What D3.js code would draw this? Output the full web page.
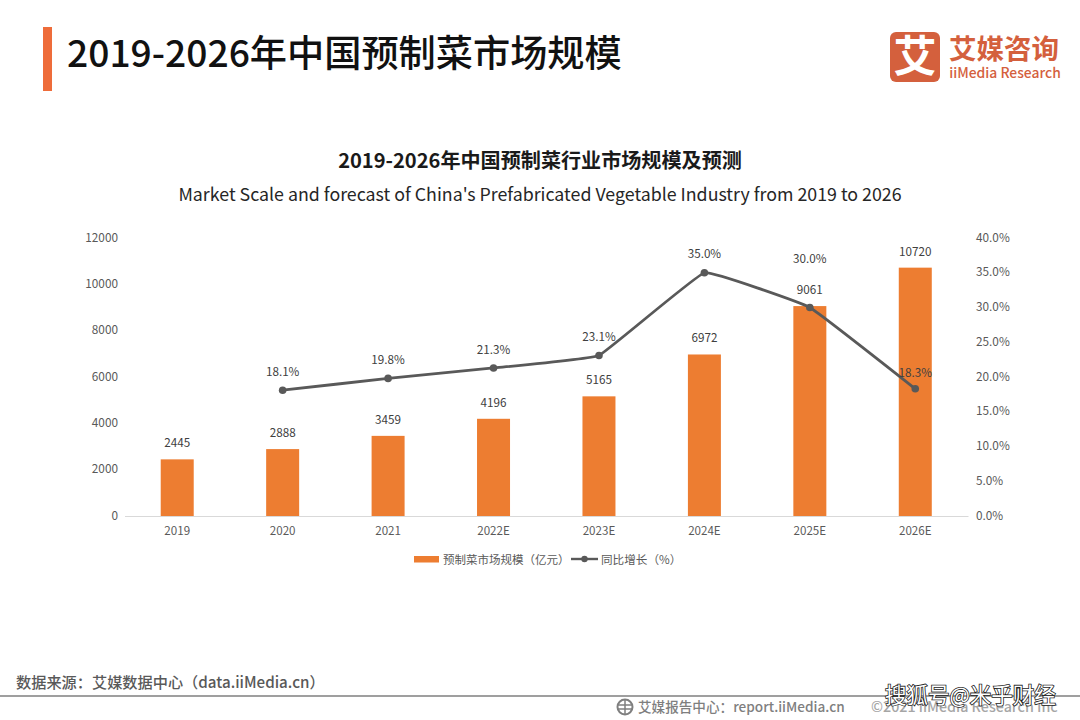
<!DOCTYPE html>
<html>
<head>
<meta charset="utf-8">
<script src="https://cdn.jsdelivr.net/npm/d3@7"></script>
<style>
html, body { margin: 0; padding: 0; background: #fff; }
svg { display: block; }
text { font-family: "Noto Sans CJK SC", "Noto Sans", sans-serif; }
</style>
</head>
<body>
<div id="chart"></div>
<script>
var years = ['2019', '2020', '2021', '2022E', '2023E', '2024E', '2025E', '2026E'];
var scaleValues = [2445, 2888, 3459, 4196, 5165, 6972, 9061, 10720];
var growthValues = [null, 18.1, 19.8, 21.3, 23.1, 35.0, 30.0, 18.3];
var growthLabels = ['', '18.1%', '19.8%', '21.3%', '23.1%', '35.0%', '30.0%', '18.3%'];
var leftTicks = [0, 2000, 4000, 6000, 8000, 10000, 12000];
var rightTicks = [0, 5, 10, 15, 20, 25, 30, 35, 40];

var svg = d3.select('#chart').append('svg').attr('width', 1080).attr('height', 720);

var x = d3.scaleBand().domain(years).range([124.5, 968]);
var yLeft = d3.scaleLinear().domain([0, 12000]).range([516, 238]);
var yRight = d3.scaleLinear().domain([0, 40]).range([516, 238]);
var barWidth = 33;
var cx = function (d) { return x(d) + x.bandwidth() / 2; };

function label(px, py, str, size, fill, anchor, weight) {
  return svg.append('text').attr('x', px).attr('y', py).text(str)
    .attr('font-size', size).attr('fill', fill)
    .attr('text-anchor', anchor || 'middle')
    .attr('font-weight', weight || 400);
}

// header
svg.append('rect').attr('x', 43).attr('y', 27).attr('width', 9).attr('height', 64).attr('fill', '#ee6c3a');
label(67, 67, '2019-2026年中国预制菜市场规模', 37.2, '#111', 'start', 500);

// logo
svg.append('rect').attr('x', 890).attr('y', 32).attr('width', 50).attr('height', 50).attr('rx', 6).attr('fill', '#d4603d');
label(915, 72, '艾', 43, '#fff', 'middle', 700);
label(1004, 59, '艾媒咨询', 27.5, '#d4603d', 'middle', 700);
label(1005, 78, 'iiMedia Research', 13.9, '#d4603d', 'middle', 500);

// titles
label(540, 168, '2019-2026年中国预制菜行业市场规模及预测', 20.1, '#1a1a1a', 'middle', 700);
label(540, 201, "Market Scale and forecast of China's Prefabricated Vegetable Industry from 2019 to 2026", 17.8, '#262626');

// axes
var xAxis = d3.axisBottom(x).tickSize(0).tickPadding(11);
var gx = svg.append('g').attr('transform', 'translate(0,516)').call(xAxis);
gx.select('.domain').attr('stroke', '#d9d9d9');
gx.selectAll('text').attr('font-size', 11.6).attr('fill', '#595959').style('font-family', '"Noto Sans CJK SC"');

var gl = svg.append('g').attr('transform', 'translate(118,-0.7)')
  .call(d3.axisLeft(yLeft).tickValues(leftTicks).tickSize(0).tickPadding(0).tickFormat(d3.format('d')));
gl.select('.domain').remove();
gl.selectAll('text').attr('font-size', 11.8).attr('fill', '#595959').style('font-family', '"Noto Sans CJK SC"');

var gr = svg.append('g').attr('transform', 'translate(976,-0.7)')
  .call(d3.axisRight(yRight).tickValues(rightTicks).tickSize(0).tickPadding(0).tickFormat(function (d) { return d.toFixed(1) + '%'; }));
gr.select('.domain').remove();
gr.selectAll('text').attr('font-size', 11.8).attr('fill', '#595959').style('font-family', '"Noto Sans CJK SC"');

// bars
svg.append('g').selectAll('rect').data(years).enter().append('rect')
  .attr('x', function (d) { return cx(d) - barWidth / 2; })
  .attr('width', barWidth)
  .attr('y', function (d, i) { return yLeft(scaleValues[i]); })
  .attr('height', function (d, i) { return 516 - yLeft(scaleValues[i]); })
  .attr('fill', '#ed7d31');

// growth line
var linePoints = years.map(function (d, i) { return { year: d, value: growthValues[i] }; })
  .filter(function (d) { return d.value !== null; });
var line = d3.line()
  .x(function (d) { return cx(d.year); })
  .y(function (d) { return yRight(d.value); })
  .curve(d3.curveCardinal.tension(0.78));
svg.append('path').datum(linePoints).attr('d', line)
  .attr('fill', 'none').attr('stroke', '#595959').attr('stroke-width', 2.8);
svg.append('g').selectAll('circle').data(linePoints).enter().append('circle')
  .attr('cx', function (d) { return cx(d.year); })
  .attr('cy', function (d) { return yRight(d.value); })
  .attr('r', 3.8).attr('fill', '#595959');

// data labels
svg.append('g').selectAll('text').data(years).enter().append('text')
  .attr('x', cx)
  .attr('y', function (d, i) { return yLeft(scaleValues[i]) - 12; })
  .attr('text-anchor', 'middle').attr('font-size', 11.7).attr('fill', '#404040')
  .text(function (d, i) { return scaleValues[i]; });

var growthDy = [0, -14, -14, -14, -14, -15, -45, -12];
svg.append('g').selectAll('text').data(years).enter().append('text')
  .filter(function (d, i) { return growthValues[i] !== null; })
  .attr('x', cx)
  .attr('y', function (d) { var i = years.indexOf(d); return yRight(growthValues[i]) + growthDy[i]; })
  .attr('text-anchor', 'middle').attr('font-size', 11.7).attr('fill', '#404040')
  .text(function (d) { return growthLabels[years.indexOf(d)]; });

// legend
svg.append('rect').attr('x', 414).attr('y', 556).attr('width', 25).attr('height', 6.5).attr('fill', '#ed7d31');
label(443, 563.5, '预制菜市场规模（亿元）', 11.5, '#595959', 'start');
svg.append('line').attr('x1', 571).attr('x2', 598).attr('y1', 559).attr('y2', 559).attr('stroke', '#595959').attr('stroke-width', 2.4);
svg.append('circle').attr('cx', 584.5).attr('cy', 559).attr('r', 3.2).attr('fill', '#595959');
label(601, 563.5, '同比增长（%）', 11.6, '#595959', 'start');

// footer
svg.append('line').attr('x1', 0).attr('x2', 1080).attr('y1', 696).attr('y2', 696).attr('stroke', '#7f7f7f').attr('stroke-width', 1.5);
label(16, 688, '数据来源：艾媒数据中心（data.iiMedia.cn）', 15.2, '#595959', 'start', 500);
var globe = svg.append('g').attr('transform', 'translate(625,707)');
globe.append('circle').attr('r', 7.5).attr('fill', 'none').attr('stroke', '#7f7f7f').attr('stroke-width', 2);
globe.append('path').attr('d', 'M-7,-2H7M-7,2H7M0,-7V7').attr('stroke', '#7f7f7f').attr('stroke-width', 1.5);
label(638, 712, '艾媒报告中心：report.iiMedia.cn', 13.6, '#7f7f7f', 'start', 500);
label(871, 712, '©2021  iiMedia Research  Inc', 14.3, '#a6a6a6', 'start', 500);
label(885, 703, '搜狐号@米乎财经', 21.5, '#fff', 'start', 400)
  .attr('stroke', '#222').attr('stroke-width', 1.6).attr('paint-order', 'stroke');
</script>
</body>
</html>
